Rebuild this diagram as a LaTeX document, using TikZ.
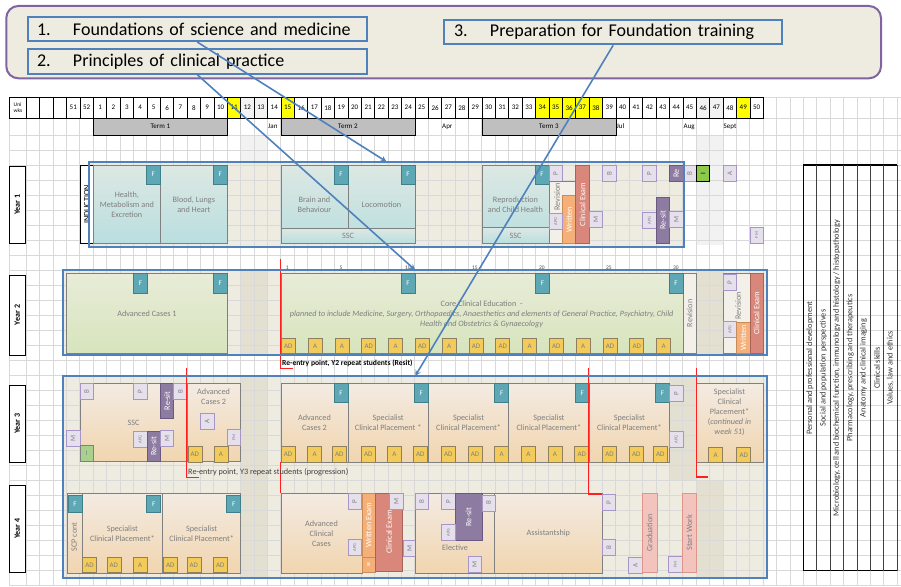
\documentclass[tikz,border=0pt]{standalone}
\usepackage{fontspec}
\setmainfont{Carlito}
\usepackage{graphicx}
\usepackage{tikz}
\usetikzlibrary{shapes}
\usetikzlibrary{arrows}
\usetikzlibrary{positioning}
\usetikzlibrary{calc}
\definecolor{beige}{HTML}{EEECE1}
\definecolor{beigefonce}{HTML}{E3E0D1}
\definecolor{bleu}{HTML}{4F81BD}
\definecolor{cadreviolet}{HTML}{8064A2}
\definecolor{lignegrille}{HTML}{D9D9D9}
\definecolor{grisclair}{HTML}{F2F2F2}
\definecolor{gristerme}{HTML}{BFBFBF}
\definecolor{textegris}{HTML}{7F7F7F}
\definecolor{cadregris}{HTML}{808080}
\definecolor{tealhaut}{HTML}{DDE8E3}
\definecolor{tealbas}{HTML}{B9DEDF}
\definecolor{verthaut}{HTML}{E8ECD8}
\definecolor{vertbas}{HTML}{D7E4BD}
\definecolor{pechehaut}{HTML}{F3EBE2}
\definecolor{pechebas}{HTML}{F1D5AF}
\definecolor{ffond}{HTML}{5EA7B4}
\definecolor{fbord}{HTML}{3F7F8A}
\definecolor{jfond}{HTML}{F2CB5A}
\definecolor{jbord}{HTML}{8C8060}
\definecolor{lfond}{HTML}{E6E0EC}
\definecolor{lbord}{HTML}{A895C8}
\definecolor{rfond}{HTML}{8E7BA1}
\definecolor{rbord}{HTML}{6A5880}
\definecolor{ofond}{HTML}{F5B07A}
\definecolor{obord}{HTML}{C98B57}
\definecolor{cfond}{HTML}{D8877A}
\definecolor{cbord}{HTML}{A8645A}
\definecolor{vfond}{HTML}{8CC94A}
\definecolor{vclair}{HTML}{A9D18E}
\definecolor{pfond}{HTML}{F2C4BD}
\definecolor{pbord}{HTML}{E0958A}
\definecolor{revfond}{HTML}{F2F0E8}
\definecolor{rougevif}{HTML}{FF1F1F}
\definecolor{jaunevif}{HTML}{FFFF00}
\newcommand{\txttitre}{\fontsize{18}{21}\selectfont}
\newcommand{\txtmod}{\fontsize{8.2}{10}\selectfont}
\newcommand{\txtital}{\fontsize{8.15}{10}\selectfont}
\newcommand{\txtcase}{\fontsize{7}{8}\selectfont}
\newcommand{\txtmini}{\fontsize{4.5}{5}\selectfont}
\newcommand{\txtpetit}{\fontsize{5.5}{6}\selectfont}
\newcommand{\txttheme}{\fontsize{8.3}{9}\selectfont}
\tikzstyle{grille}=[draw=lignegrille,line width=0.5pt]
\tikzstyle{fondannee}=[fill=beige,anchor=north west,inner sep=0pt]
\tikzstyle{bordbleu}=[draw=bleu,line width=2pt]
\tikzstyle{cadre}=[draw=cadreviolet,line width=2pt,fill=beige,rounded corners=12pt,
        anchor=north west,inner sep=0pt]
\tikzstyle{titre}=[draw=bleu,line width=2pt,anchor=north west,inner ysep=0pt,
        inner xsep=9.3pt,align=left,font=\txttitre,minimum height=24.3pt]
\tikzstyle{semaine}=[draw=black,line width=0.7pt,anchor=north west,minimum width=13.4pt,
        minimum height=20.7pt,inner sep=0pt,font=\txtcase]
\tikzstyle{terme}=[draw=black,line width=0.7pt,fill=gristerme,anchor=north west,
        minimum width=134pt,minimum height=16.5pt,inner sep=0pt,font=\txtcase]
\tikzstyle{mois}=[anchor=west,inner sep=0pt,font=\txtcase]
\tikzstyle{annee}=[draw=black,line width=0.8pt,fill=white,minimum width=16pt,inner sep=0pt,
        font=\fontsize{8}{9}\selectfont\bfseries]
\tikzstyle{module}=[draw=cadregris,line width=0.7pt,anchor=north west,inner sep=1pt,
        align=center,text=textegris,font=\txtmod]
\tikzstyle{an1}=[module,top color=tealhaut,bottom color=tealbas,minimum height=78.3pt]
\tikzstyle{an2}=[module,top color=verthaut,bottom color=vertbas,minimum height=79.4pt]
\tikzstyle{an34}=[module,top color=pechehaut,bottom color=pechebas,minimum height=79pt]
\tikzstyle{texte}=[text=textegris,font=\txtmod,align=center,inner sep=0pt]
\tikzstyle{fcase}=[draw=fbord,line width=0.7pt,fill=ffond,anchor=north west,minimum width=14pt,
        minimum height=18.5pt,inner sep=0pt,text=white,font=\txtcase]
\tikzstyle{evalc}=[draw=jbord,line width=0.7pt,fill=jfond,anchor=north west,minimum width=14pt,
        minimum height=15.5pt,inner sep=0pt,text=textegris,font=\txtcase]
\tikzstyle{lav}=[draw=lbord,line width=0.7pt,fill=lfond,anchor=north west,minimum width=13.4pt,
        minimum height=16pt,inner sep=0pt,text=textegris,font=\txtcase]
\tikzstyle{resit}=[draw=rbord,line width=0.7pt,fill=rfond,anchor=north west,minimum width=13.4pt,
        inner sep=0pt,text=white,font=\txtmod]
\tikzstyle{ecrit}=[draw=obord,line width=0.7pt,fill=ofond,anchor=north west,minimum width=13.4pt,
        inner sep=0pt,text=white,font=\txtmod]
\tikzstyle{clin}=[draw=cbord,line width=0.7pt,fill=cfond,anchor=north west,minimum width=13.4pt,
        inner sep=0pt,text=white,font=\txtmod]
\tikzstyle{revis}=[draw=cadregris,line width=0.7pt,fill=revfond,anchor=north west,
        minimum width=13.4pt,inner sep=0pt,text=textegris,font=\txtmod]
\tikzstyle{rose}=[draw=pbord,line width=0.7pt,fill=pfond,anchor=north west,minimum width=13.4pt,
        inner sep=0pt,text=textegris,font=\txtmod]
\tikzstyle{vertc}=[draw=black,line width=0.7pt,fill=vfond,anchor=north west,minimum width=13.4pt,
        minimum height=16pt,inner sep=0pt,font=\txtcase]
\tikzstyle{semclin}=[inner sep=0pt,font=\txtpetit,text=black!70]
\tikzstyle{rouge}=[draw=rougevif,line width=1.2pt]
\tikzstyle{reentree}=[anchor=west,inner sep=0pt]
\tikzstyle{theme}=[rotate=90,inner sep=0pt,font=\txttheme,text=black!80]
\tikzstyle{fleche}=[->,>=stealth,draw=bleu,line width=1.6pt]
\begin{document}
\begin{tikzpicture}[x=1pt,y=-1pt]
\useasboundingbox (0,0) rectangle (901,586);
%Background
\node[cadre,minimum width=874.7pt,minimum height=72.3pt] (cadre) at (5.3,5) {};
\fill[grisclair] (240.4,135) rectangle (267.2,246);
\fill[grisclair] (696,135) rectangle (722.8,245);
\node[fondannee,minimum width=594pt,minimum height=85pt] (yr1) at (89.3,161.7) {};
\node[fondannee,minimum width=703.4pt,minimum height=85pt] (yr2) at (63.3,270) {};
\node[fondannee,minimum width=703.4pt,minimum height=201.3pt] (yr3) at (63.3,376) {};
\fill[beigefonce] (240.4,270) rectangle (267.2,355);
\fill[beigefonce] (696,270) rectangle (722.8,355);
\fill[beigefonce] (240.4,376) rectangle (267.2,480);
\fill[beigefonce] (669.2,376) rectangle (696,480);
\fill[beigefonce] (240.4,480) rectangle (267.2,577.3);
\fill[beigefonce] (696,480) rectangle (722.8,577.3);
\foreach \k in {0,...,65} \draw[grille] ({26+13.4*\k},97) -- ({26+13.4*\k},586);
\draw[grille] (9.3,118) -- (9.3,586);
\draw[grille] (763,97) -- (901,97);
\draw[grille] (9.3,118) -- (901,118);
\foreach \j in {0,...,30} \draw[grille] (9.3,{135+15*\j}) -- (901,{135+15*\j});
%Weeks
\fill[white] (26,97) rectangle (763,117.7);
\foreach \n in {11,15,34,35,36,37,38,49} \fill[jaunevif] ({26+13.4*(\n+4)},97) rectangle +(13.4,20.7);
\foreach \n in {12,13,46,47} \fill[grisclair] ({26+13.4*(\n+4)},97) rectangle +(13.4,20.7);
\node[semaine,fill=white,minimum width=16.7pt,align=left,font=\txtpetit] (uw) at (9.3,97) {Uni\\wks};
\foreach \c in {1,2,3} \node[semaine] (v\c) at ({26+13.4*(\c-1)},97) {};
\foreach \n [count=\c from 4] in {51,52,1,2,...,50} \node[semaine] (s\c) at ({26+13.4*(\c-1)},97) {\n};
\node[terme] (term1) at (93,118) {Term 1};
\node[terme] (term2) at (280.6,118) {Term 2};
\node[terme] (term3) at (481.6,118) {Term 3};
\node[mois] (jan) at (268,126.5) {Jan};
\node[mois] (apr) at (442,126.5) {Apr};
\node[mois] (jul) at (616.5,126.5) {Jul};
\node[mois] (aug) at (683.5,126.5) {Aug};
\node[mois] (sept) at (723.5,126.5) {Sept};
\node[annee,minimum height=77pt] (an1) at (17.3,204.5) {\rotatebox{90}{Year 1}};
\node[annee,minimum height=80pt] (an2) at (17.3,315) {\rotatebox{90}{Year 2}};
\node[annee,minimum height=77pt] (an3) at (17.3,423.5) {\rotatebox{90}{Year 3}};
\node[annee,minimum height=87pt] (an4) at (17.3,528.5) {\rotatebox{90}{Year 4}};
\node[annee,anchor=north west,minimum width=13.4pt,minimum height=78.3pt,font=\txtmod] (ind) at (79.6,165) {\rotatebox{90}{INDUCTION}};
%Year 1
\node[an1,minimum width=67pt] (hme) at (93,165) {Health,\\Metabolism and\\Excretion};
\node[an1,minimum width=67pt] (blh) at (160,165) {Blood, Lungs\\and Heart};
\node[an1,minimum width=67pt] (brb) at (280.6,165) {Brain and\\Behaviour};
\node[an1,minimum width=67pt] (loco) at (347.6,165) {Locomotion};
\node[an1,minimum width=134pt,minimum height=15.6pt] (ssca) at (280.6,227.7) {SSC};
\node[an1,minimum width=67pt] (rch) at (481.6,165) {Reproduction\\and Child Health};
\node[an1,minimum width=67pt,minimum height=16.3pt] (sscb) at (481.6,227) {SSC};
\foreach \x/\n in {146/f1a,213/f1b,333.6/f1c,400.6/f1d,534.6/f1e} \node[fcase] (\n) at (\x,165) {F};
\node[lav] (p1a) at (548.6,165) {\rotatebox{90}{P}};
\node[revis,minimum width=26.8pt,minimum height=62.6pt] (rev1) at (548.6,180.7) {};
\node[texte] (rev1t) at (557,197) {\rotatebox{90}{Revision}};
\node[ecrit,minimum height=48.3pt] (wr1) at (562,195) {\rotatebox{90}{Written}};
\node[clin,minimum height=78.3pt] (ce1) at (575.4,165) {\rotatebox{90}{Clinical Exam}};
\node[lav] (apg1a) at (548.6,213.3) {\rotatebox{90}{\txtmini APG}};
\node[lav] (m1a) at (588.8,211) {\rotatebox{90}{M}};
\node[lav] (b1a) at (602.2,165) {\rotatebox{90}{B}};
\node[lav] (p1b) at (642.4,165) {\rotatebox{90}{P}};
\node[resit,minimum height=16pt] (rs1a) at (669.2,165) {\rotatebox{90}{Re}};
\node[lav] (b1b) at (682.6,165) {\rotatebox{90}{B}};
\node[vertc] (i1) at (696,165) {\rotatebox{90}{I}};
\node[lav] (a1) at (722.8,165) {\rotatebox{90}{A}};
\node[lav] (apg1b) at (642.4,212.3) {\rotatebox{90}{\txtmini APG}};
\node[resit,minimum height=45.4pt] (rs1b) at (655.8,197.3) {\rotatebox{90}{Re-sit}};
\node[lav] (m1b) at (669.2,211) {\rotatebox{90}{M}};
\node[lav] (fm1) at (749.6,226.7) {\rotatebox{90}{\txtmini FM}};
%Year 2
\node[an2,minimum width=160.8pt] (ac1) at (66.2,273.3) {Advanced Cases 1};
\node[an2,minimum width=402pt] (cce) at (280.6,273.3) {};
\node[texte] (ccet) at (481.6,314) {Core Clinical Education\ \ -\\{\txtital\itshape planned to include Medicine, Surgery, Orthopaedics, Anaesthetics and elements of General Practice, Psychiatry, Child}\\{\txtital\itshape Health and Obstetrics \& Gynaecology}};
\node[revis,minimum height=79.4pt] (rev2a) at (682.6,273.3) {\rotatebox{90}{Revision}};
\node[revis,minimum width=26.8pt,minimum height=79.4pt] (rev2b) at (722.8,273.3) {};
\node[texte] (rev2t) at (738,306) {\rotatebox{90}{Revision}};
\node[lav] (p2a) at (722.8,274) {\rotatebox{90}{P}};
\node[lav] (apg2a) at (722.8,321) {\rotatebox{90}{\txtmini APG}};
\node[ecrit,minimum height=31pt] (wr2) at (736.2,321.7) {\rotatebox{90}{Written}};
\node[clin,minimum height=79.4pt] (ce2) at (749.6,273.3) {\rotatebox{90}{Clinical Exam}};
\foreach \x/\n in {133.2/f2a,213/f2b,400.6/f2c,535.2/f2d,668.6/f2e} \node[fcase,minimum height=19.4pt] (\n) at (\x,273.3) {F};
\foreach \lab [count=\k from 0] in {AD,A,A,AD,A,AD,A,AD,AD,A,AD,A,AD,AD,A} \node[evalc] (e2\k) at ({281+26.8*\k},337.7) {\lab};
\foreach \w in {1,5,10,15,20,25,30} \node[semclin] (cw\w) at ({280.6+13.4*(\w-0.5)},267.5) {\w};
%Year 3
\node[an34,minimum width=107.2pt,minimum height=78pt] (ssc3) at (79.6,383.3) {SSC};
\node[lav] (b3a) at (79.6,383.3) {\rotatebox{90}{B}};
\node[lav] (p3a) at (133.2,383.3) {\rotatebox{90}{P}};
\node[resit,minimum height=34.4pt] (rs3a) at (160,383.3) {\rotatebox{90}{Re-sit}};
\node[lav] (b3b) at (173.4,383.3) {\rotatebox{90}{B}};
\node[lav] (m3a) at (66.2,430) {\rotatebox{90}{M}};
\node[vertc,fill=vclair,draw=cadregris,text=textegris] (i3) at (79.6,445.3) {I};
\node[lav] (apg3a) at (133.2,431) {\rotatebox{90}{\txtmini APG}};
\node[resit,minimum height=30.3pt] (rs3b) at (146.6,431) {\rotatebox{90}{Re-sit}};
\node[lav] (m3b) at (160,430) {\rotatebox{90}{M}};
\node[an34,minimum width=53.6pt,minimum height=78pt] (ac2s) at (186.8,383.3) {};
\node[texte] (ac2st) at (213.6,396.7) {Advanced\\Cases 2};
\node[lav] (a3a) at (200.2,413.3) {\rotatebox{90}{A}};
\node[lav] (fm3) at (227,429.3) {\rotatebox{90}{\txtmini FM}};
\node[evalc] (e3a) at (187.5,446) {AD};
\node[evalc] (e3b) at (213.6,446) {A};
\node[an34,minimum width=67pt,minimum height=78.4pt] (ac2) at (280.6,383.3) {Advanced\\Cases 2};
\node[an34,minimum width=80.4pt,minimum height=78.4pt] (sp1) at (347.6,383.3) {Specialist\\Clinical Placement *};
\node[an34,minimum width=80.4pt,minimum height=78.4pt] (sp2) at (428,383.3) {Specialist\\Clinical Placement*};
\node[an34,minimum width=80.4pt,minimum height=78.4pt] (sp3) at (508.4,383.3) {Specialist\\Clinical Placement*};
\node[an34,minimum width=80.4pt,minimum height=78.4pt] (sp4) at (588.8,383.3) {Specialist\\Clinical Placement*};
\foreach \x/\n in {333.6/f3a,414/f3b,494.4/f3c,574.8/f3d,655.2/f3e} \node[fcase,minimum height=19pt] (\n) at (\x,383.3) {F};
\foreach \x/\lab [count=\k] in {280.6/AD,307.4/A,332/AD,361/AD,387/A,413/AD,441/AD,467.6/AD,494.4/A,521/A,547.6/A,574.4/AD,602.2/AD,629/AD,653/AD} \node[evalc] (e3\k) at (\x,446.3) {\lab};
\node[lav] (p3b) at (669.2,385) {\rotatebox{90}{P}};
\node[lav] (apg3b) at (669.2,431) {\rotatebox{90}{\txtmini APG}};
\node[an34,minimum width=67pt,minimum height=78.7pt] (sp5) at (696,383.3) {};
\node[texte] (sp5t) at (729.5,412.7) {Specialist\\Clinical\\Placement*\\(\textit{continued in}\\\textit{week 51})};
\node[evalc] (e3p) at (708.4,446.7) {A};
\node[evalc] (e3q) at (736.4,446.7) {AD};
%Year 4
\node[an34,minimum width=15pt,minimum height=79.4pt] (scp) at (66.7,493.3) {};
\node[texte] (scpt) at (74.2,537) {\rotatebox{90}{SCP cont}};
\node[an34,minimum width=80.6pt,minimum height=79.4pt] (sp6) at (81.7,493.3) {Specialist\\Clinical Placement*};
\node[an34,minimum width=78.1pt,minimum height=79.4pt] (sp7) at (162.3,493.3) {Specialist\\Clinical Placement*};
\foreach \x/\n in {67.7/f4a,146.3/f4b,226.3/f4c} \node[fcase,minimum height=17.3pt] (\n) at (\x,495) {F};
\foreach \x/\lab [count=\k] in {82.2/AD,106.5/AD,132.7/A,163/AD,186.5/AD,213/AD} \node[evalc] (e4\k) at (\x,556.8) {\lab};
\node[an34,minimum width=81.1pt,minimum height=79.4pt] (acc) at (280.6,493.3) {Advanced\\Clinical\\Cases};
\node[lav] (p4a) at (347.5,493.3) {\rotatebox{90}{P}};
\node[lav] (apg4a) at (347.5,539.3) {\rotatebox{90}{\txtmini APG}};
\node[ecrit,minimum width=13.3pt,minimum height=63.4pt] (wr4) at (361.7,493.3) {\rotatebox{90}{Written Exam}};
\node[ecrit,minimum width=13.3pt,minimum height=15pt] (re4) at (361.7,556.7) {\rotatebox{90}{\txtmini RE}};
\node[clin,minimum width=27.3pt,minimum height=78pt] (ce4) at (375,492.7) {\rotatebox{90}{Clinical Exam}};
\node[lav] (m4a) at (389.3,492.7) {\rotatebox{90}{M}};
\node[lav] (m4b) at (402.5,540) {\rotatebox{90}{M}};
\node[an34,minimum width=79.7pt,minimum height=79.4pt] (elec) at (414.6,493.3) {};
\node[texte] (elect) at (455,548) {Elective};
\node[an34,minimum width=107.4pt,minimum height=79.4pt] (assist) at (494.3,493.3) {Assistantship};
\node[lav] (b4a) at (414.6,493.3) {\rotatebox{90}{B}};
\node[lav] (p4b) at (441.4,493.3) {\rotatebox{90}{P}};
\node[resit,minimum width=26.8pt,minimum height=46.7pt] (rs4) at (454.8,493.3) {\rotatebox{90}{Re-sit}};
\node[lav] (apg4b) at (441.4,524) {\rotatebox{90}{\txtmini APG}};
\node[lav] (m4c) at (467.6,556) {\rotatebox{90}{M}};
\node[lav] (b4b) at (481.6,494.5) {\rotatebox{90}{B}};
\node[lav] (p4c) at (601.7,494) {\rotatebox{90}{P}};
\node[lav] (b4c) at (601.7,539.3) {\rotatebox{90}{B}};
\node[lav] (a4) at (628.4,556.7) {\rotatebox{90}{A}};
\node[rose,minimum width=15pt,minimum height=78.4pt] (grad) at (641.7,493.3) {\rotatebox{90}{Graduation}};
\node[lav] (fm4) at (668.4,556) {\rotatebox{90}{\txtmini FM}};
\node[rose,minimum height=78.4pt] (sw) at (682.3,493.3) {\rotatebox{90}{Start Work}};
%Re-entry points
\draw[rouge] (280.5,259.3) -- (280.5,368.3) -- (292.7,368.3);
\draw[rouge] (186.7,368) -- (186.7,477.5) -- (199.3,477.5);
\draw[rouge] (588.8,368) -- (588.8,494) -- (601.7,494);
\draw[rouge] (696.2,368) -- (696.2,477) -- (708.3,477);
\draw[rouge] (280.5,462) -- (280.5,493);
\node[reentree,font=\fontsize{7.6}{8}\selectfont\bfseries] (re2) at (282,363) {Re-entry point, Y2 repeat students (Resit)};
\node[reentree,font=\fontsize{8.2}{9}\selectfont,text=black!75] (re3) at (188,472) {Re-entry point, Y3 repeat students (progression)};
\draw[bordbleu] (yr1.north west) rectangle (yr1.south east);
\draw[bordbleu] (yr2.north west) rectangle (yr2.south east);
\draw[bordbleu] (yr3.north west) rectangle (yr3.south east);
%Themes
\draw[black,line width=1.3pt] (803.2,165) -- (897,165);
\draw[black,line width=1.3pt] (803.2,570.7) -- (897,570.7);
\foreach \k in {0,...,7} \draw[black!75,line width=0.6pt] ({803.2+13.4*\k},165) -- ({803.2+13.4*\k},570.7);
\draw[black,line width=1pt] (803.2,165) -- (803.2,570.7);
\foreach \t [count=\k from 0] in {Personal and professional development,Social and population perspectives,{Microbiology, cell and biochemical function, immunology and histology / histopathology},{Pharmacology, prescribing and therapeutics},Anatomy and clinical imaging,Clinical skills,{Values, law and ethics}} \node[theme] (th\k) at ({809.9+13.4*\k},368) {\t};
%Titles
\node[titre,text width=320.4pt] (h1) at (26.7,15.7) {\makebox[36pt][l]{1.}Foundations of science and medicine};
\node[titre,text width=320.4pt] (h2) at (26.7,48.3) {\makebox[36pt][l]{2.}Principles of clinical practice};
\node[titre,text width=318.3pt,inner xsep=9.7pt] (h3) at (443.3,19) {\makebox[36pt][l]{3.}Preparation for Foundation training};
%Drawing Arrows
\draw[fleche] (h1.south) -- (yr1.north);
\draw[fleche] (h2.south) -- (yr2.north);
\draw[fleche] (h3.south) -- (yr3.north);
\end{tikzpicture}
\end{document}
